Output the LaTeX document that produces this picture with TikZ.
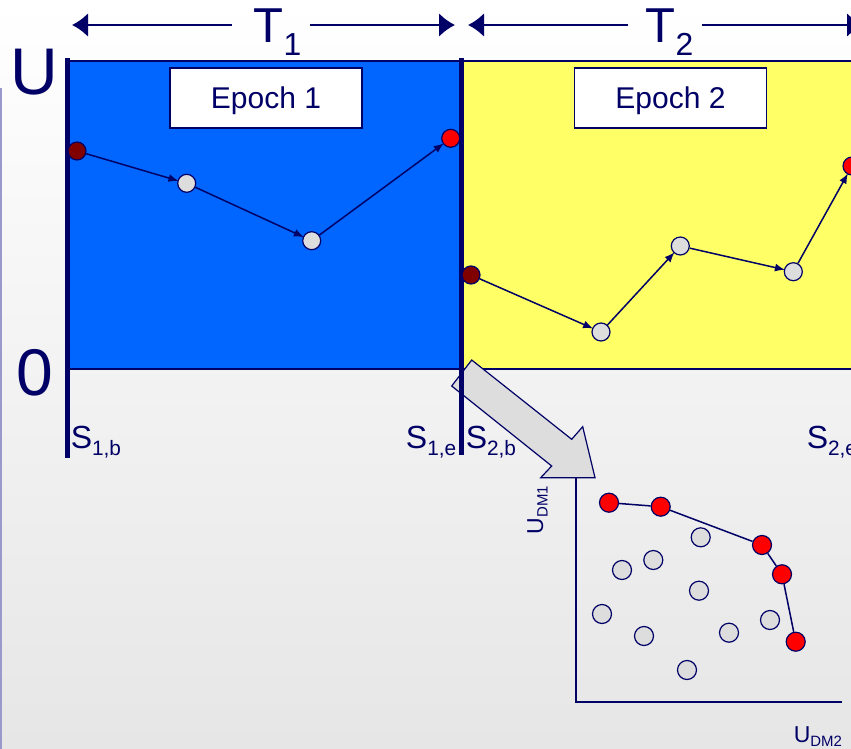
\documentclass[tikz,border=0pt]{standalone}
\usepackage{fontspec}
\setmainfont{Liberation Sans}
\usepackage{graphicx}
\usetikzlibrary{arrows.meta}
\definecolor{navy}{HTML}{000066}
\definecolor{blueE}{HTML}{0066FF}
\definecolor{yellowE}{HTML}{FFFF66}
\definecolor{lavender}{HTML}{9999CC}
\definecolor{lightpt}{HTML}{DDDDDD}
\definecolor{darkpt}{HTML}{800000}
\definecolor{redpt}{HTML}{FF0000}
\definecolor{bggray}{HTML}{E6E6E6}
\newcommand{\fsz}[1]{\fontsize{#1}{#1}\selectfont}
\newcommand{\lowsub}[2][.25em]{\raisebox{-#1}{\scalebox{.65}{#2}}}
\tikzset{px/.style={x=1pt,y=-1pt,line width=1.5pt,navy,text=navy},
  txt/.style={inner sep=0pt},
  epochbox/.style={draw=navy,fill=white,line width=1.5pt,minimum width=192pt,
    minimum height=60pt,text height=22pt,text depth=0pt,font=\fsz{30}},
  bar/.style={navy,line width=5pt},
  span/.style={navy,line width=2.5pt,-{Latex[length=16pt,width=24pt]}},
  pt/.style={circle,draw=navy,line width=1.2pt,minimum size=18pt,inner sep=0pt},
  ptstart/.style={pt,fill=darkpt},
  ptmid/.style={pt,fill=lightpt},
  ptend/.style={pt,fill=redpt},
  link/.style={navy,line width=1.5pt,-{Latex[length=10pt,width=8pt]},shorten >=-1pt},
  ppt/.style={circle,draw=navy,line width=1.2pt,minimum size=19pt,inner sep=0pt}}

\begin{document}
\begin{tikzpicture}[px]
  \useasboundingbox (0,0) rectangle (851,749);
  % background
  \shade[top color=white,bottom color=bggray] (0,0) rectangle (851,749);
  \draw[lavender,line width=2pt] (1,88) -- (1,749);
  % epochs
  \filldraw[fill=blueE,draw=navy] (67,61) rectangle (461,369);
  \filldraw[fill=yellowE,draw=navy] (461,61) rectangle (870,369);
  \node[epochbox] (ep1) at (266,98) {Epoch 1};
  \node[epochbox] (ep2) at (670.5,98) {Epoch 2};
  % durations
  \node[txt,anchor=base west,font=\fsz{49}] (t1) at (253,43) {T\lowsub{1}};
  \node[txt,anchor=base west,font=\fsz{49}] (t2) at (645,43) {T\lowsub{2}};
  \coordinate (t1a) at (232,25); \coordinate (t1l) at (72,25);
  \coordinate (t1b) at (310,25); \coordinate (t1r) at (455,25);
  \coordinate (t2a) at (628,25); \coordinate (t2l) at (468,25);
  \coordinate (t2b) at (702,25); \coordinate (t2r) at (863,25);
  \draw[span] (t1a) -- (t1l); \draw[span] (t1b) -- (t1r);
  \draw[span] (t2a) -- (t2l); \draw[span] (t2b) -- (t2r);
  % U axis
  \node[txt,anchor=base,font=\fsz{66}] (umax) at (34,95) {U};
  \node[txt,anchor=base,font=\fsz{66}] (uzero) at (34.5,395) {0};
  % big arrow to the front
  \filldraw[fill=lightpt,draw=navy,line width=1.2pt] (471.7,360) -- (571.7,439.3)
    -- (582.7,426.7) -- (595,477.7) -- (540.7,477.7) -- (551.7,466)
    -- (451.7,386) -- cycle;
  % state bars
  \coordinate (s1t) at (67,58); \coordinate (s1d) at (67,458);
  \coordinate (s2t) at (461,58); \coordinate (s2d) at (461,455);
  \draw[bar] (s1t) -- (s1d);
  \draw[bar] (s2t) -- (s2d);
  \node[txt,anchor=base west,font=\fsz{32}] (s1b) at (70,448) {S\lowsub[.22em]{1,b}};
  \node[txt,anchor=base east,font=\fsz{32}] (s1e) at (457,448) {S\lowsub[.22em]{1,e}};
  \node[txt,anchor=base west,font=\fsz{32}] (s2b) at (465,448) {S\lowsub[.22em]{2,b}};
  \node[txt,anchor=base west,font=\fsz{32}] (s2e) at (806,448) {S\lowsub[.22em]{2,e}};
  % epoch 1 path
  \node[ptstart] (a0) at (77,151) {};
  \node[ptmid] (a1) at (186.7,183.3) {};
  \node[ptmid] (a2) at (311.7,240.7) {};
  \node[ptend] (a3) at (450.7,138.3) {};
  \draw[link] (a0) -- (a1);
  \draw[link] (a1) -- (a2);
  \draw[link] (a2) -- (a3);
  % epoch 2 path
  \node[ptstart] (b0) at (471,275) {};
  \node[ptmid] (b1) at (601,332) {};
  \node[ptmid] (b2) at (680.3,246) {};
  \node[ptmid] (b3) at (793.3,271.7) {};
  \node[ptend] (b4) at (852,166) {};
  \draw[link] (b0) -- (b1);
  \draw[link] (b1) -- (b2);
  \draw[link] (b2) -- (b3);
  \draw[link] (b3) -- (b4);
  % pareto plot
  \coordinate (ytop) at (576,478); \coordinate (orig) at (576,702);
  \coordinate (xend) at (842,702);
  \draw[line width=2pt] (ytop) -- (orig) -- (xend);
  \node[txt,rotate=90,anchor=base west,font=\fsz{23}] (udm1) at (543,535) {U\lowsub[.2em]{DM1}};
  \node[txt,anchor=base west,font=\fsz{23}] (udm2) at (793,742) {U\lowsub[.2em]{DM2}};
  \foreach \n/\x/\y in {g1/700.7/537.3,g2/653.3/560,g3/622/570,g4/699/590.7,
    g5/602/614,g6/770/620,g7/644/636,g8/729/632.7,g9/687/670}
    \node[ppt,fill=lightpt] (\n) at (\x,\y) {};
  \foreach \n/\x/\y in {r1/609/502.7,r2/660.7/506.7,r3/762/545,r4/782/574.3,r5/795.7/641.7}
    \node[ppt,fill=redpt] (\n) at (\x,\y) {};
  \draw[line width=1.5pt] (r1) -- (r2) -- (r3) -- (r4) -- (r5);
\end{tikzpicture}
\end{document}
